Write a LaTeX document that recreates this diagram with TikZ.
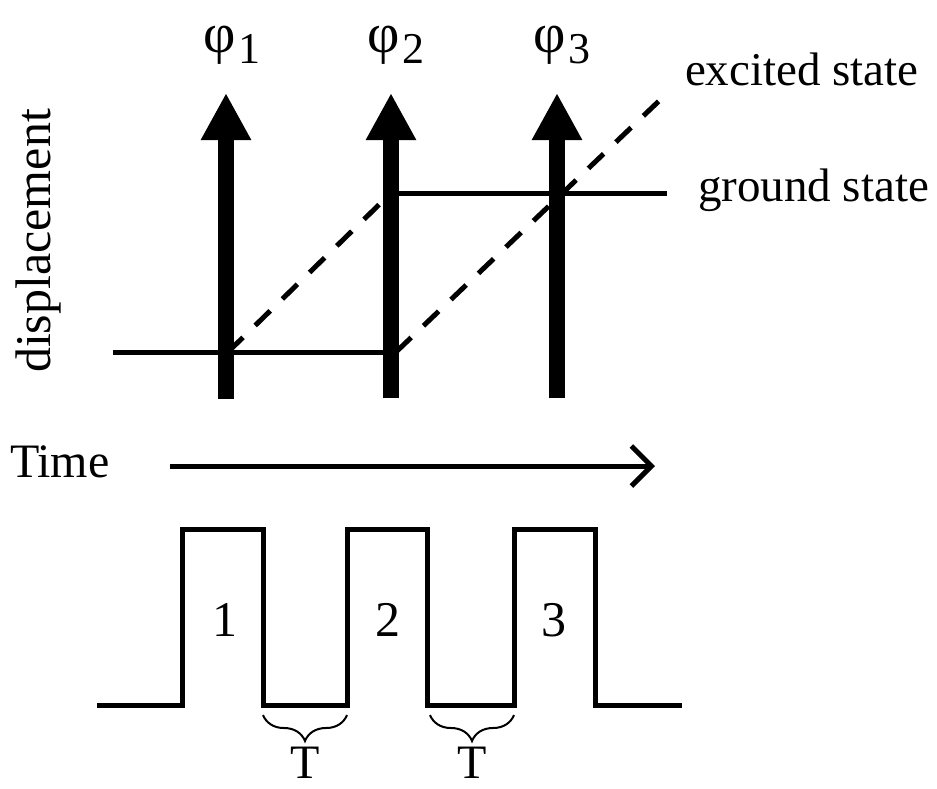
\documentclass[tikz,border=0pt]{standalone}
\usepackage{fontspec}
\setmainfont{Liberation Serif}
\usetikzlibrary{arrows.meta,decorations.pathreplacing}
\tikzset{
  txt/.style={inner sep=0pt, outer sep=0pt, anchor=base, font=\fontsize{48}{56}\selectfont},
  num/.style={inner sep=0pt, outer sep=0pt, anchor=base, font=\fontsize{50}{56}\selectfont},
  lbl/.style={inner sep=0pt, outer sep=0pt, anchor=base west, font=\fontsize{47}{56}\selectfont},
  phi/.style={inner sep=0pt, outer sep=0pt, anchor=base west, font=\fontsize{56}{60}\selectfont},
  sub/.style={inner sep=0pt, outer sep=0pt, anchor=base west, font=\fontsize{44}{50}\selectfont},
  bigarrow/.style={line width=16pt, -{Triangle[width=47pt,length=47pt]}},
  level/.style={line width=5pt},
  excited/.style={line width=5pt, dash pattern=on 21pt off 17pt},
  pulse/.style={line width=5pt, line join=miter},
  timearrow/.style={line width=5pt, -{Straight Barb[length=20pt,width=40pt]}},
  tbrace/.style={line width=2pt, decorate, decoration={brace, mirror, amplitude=26pt}}
}
\begin{document}
\begin{tikzpicture}[x=1pt,y=-1pt]
\useasboundingbox (0,0) rectangle (937,788);
% coordinates
\coordinate (g1s) at (113,352);
\coordinate (g1e) at (391,352);
\coordinate (g2s) at (391,193);
\coordinate (g2e) at (667,193);
\coordinate (e1s) at (228,352);
\coordinate (e1e) at (391,193);
\coordinate (e2s) at (396,352);
\coordinate (e2e) at (660,100);
\coordinate (a1b) at (226,399);
\coordinate (a1t) at (226,93);
\coordinate (a2b) at (391,398);
\coordinate (a2t) at (391,93);
\coordinate (a3b) at (557,398);
\coordinate (a3t) at (557,93);
% levels
\draw[level] (g1s) -- (g1e);
\draw[level] (g2s) -- (g2e);
\draw[excited] (e1s) -- (e1e);
\draw[excited] (e2s) -- (e2e);
% pulses (arrows)
\draw[bigarrow] (a1b) -- (a1t);
\draw[bigarrow] (a2b) -- (a2t);
\draw[bigarrow] (a3b) -- (a3t);
% phi labels
\node[phi] (p1) at (203,52) {φ};
\node[sub] (s1) at ([xshift=3pt,yshift=-11pt]p1.base east) {1};
\node[phi] (p2) at (367,52) {φ};
\node[sub] (s2) at ([xshift=3pt,yshift=-11pt]p2.base east) {2};
\node[phi] (p3) at (533,52) {φ};
\node[sub] (s3) at ([xshift=3pt,yshift=-11pt]p3.base east) {3};
% state labels
\node[lbl] (exc) at (685,85) {excited state};
\node[lbl] (gnd) at (698,201) {ground state};
% displacement
\node[txt, rotate=90, font=\fontsize{50}{56}\selectfont] (disp) at (50,241) {displacement};
% time
\node[txt, anchor=base west] (time) at (10,477) {Time};
\coordinate (ts) at (170,466);
\coordinate (te) at (655,466);
\draw[timearrow] (ts) -- (te);
% pulse train
\coordinate (p0) at (97,705);
\coordinate (pe) at (682,705);
\draw[pulse] (p0) -- (182,705) -- (182,529) -- (263,529) -- (263,705) -- (347,705) -- (347,529) -- (427,529) -- (427,705) -- (514,705) -- (514,529) -- (595,529) -- (595,705) -- (pe);
\node[num] (n1) at (225,636) {1};
\node[num] (n2) at (388,636) {2};
\node[num] (n3) at (554,636) {3};
% braces
\coordinate (b1s) at (263,715);
\coordinate (b1e) at (347,715);
\coordinate (b2s) at (430,715);
\coordinate (b2e) at (514,715);
\draw[tbrace] (b1s) -- (b1e);
\draw[tbrace] (b2s) -- (b2e);
\node[txt] (T1) at (305,778) {T};
\node[txt] (T2) at (472,778) {T};
\end{tikzpicture}
\end{document}
